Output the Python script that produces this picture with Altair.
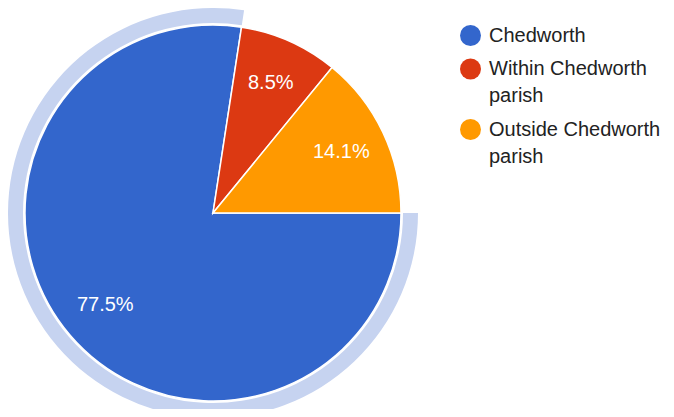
import math
import altair as alt
import pandas as pd

categories = ["Chedworth", "Within Chedworth parish", "Outside Chedworth parish"]
values = [77.5, 8.5, 14.1]
labels = ["77.5%", "8.5%", "14.1%"]
colors = ["#3366cc", "#dc3912", "#ff9900"]
order = [0, 1, 2]

df = pd.DataFrame({"category": categories, "value": values, "label": labels, "order": order})

FONT = "Liberation Sans"
CX, CY = 205, 205

theta = alt.Theta("value:Q", stack=True,
                  scale=alt.Scale(range=[math.pi / 2, math.pi / 2 + 2 * math.pi]))
ordr = alt.Order("order:Q")

base = alt.Chart(df)

ring = base.mark_arc(radius=190, radius2=205).encode(
    theta=theta,
    order=ordr,
    x=alt.value(CX), y=alt.value(CY),
    fill=alt.condition(alt.datum.category == "Chedworth",
                       alt.value("#c6d3f0"), alt.value("transparent")),
)

pie = base.mark_arc(radius=188, stroke="white", strokeWidth=1.5).encode(
    theta=theta,
    order=ordr,
    x=alt.value(CX), y=alt.value(CY),
    color=alt.Color(
        "category:N",
        scale=alt.Scale(domain=categories, range=colors),
        legend=alt.Legend(
            title=None, orient="none", legendX=452, legendY=17,
            padding=0, symbolType="circle", symbolSize=440, symbolStrokeWidth=0,
            labelFont=FONT, labelFontSize=20, labelColor="#222222", labelLimit=0,
            labelOffset=8, rowPadding=12.5,
            labelExpr="indexof(datum.label, ' parish') > 0 ? [replace(datum.label, ' parish', ''), 'parish'] : datum.label",
        ),
    ),
)

text = base.mark_text(radius=142, fontSize=20, font=FONT, color="white").encode(
    theta=theta,
    order=ordr,
    x=alt.value(CX), y=alt.value(CY),
    text="label:N",
)

chart = alt.layer(ring, pie, text).properties(
    width=658, height=401, autosize=alt.AutoSizeParams(type="none"), padding=0,
    background="white",
).configure(style={"guide-label": {"lineHeight": 27}}).configure_view(stroke=None)

chart.save("out.html", embed_options={"renderer": "svg", "actions": False})
